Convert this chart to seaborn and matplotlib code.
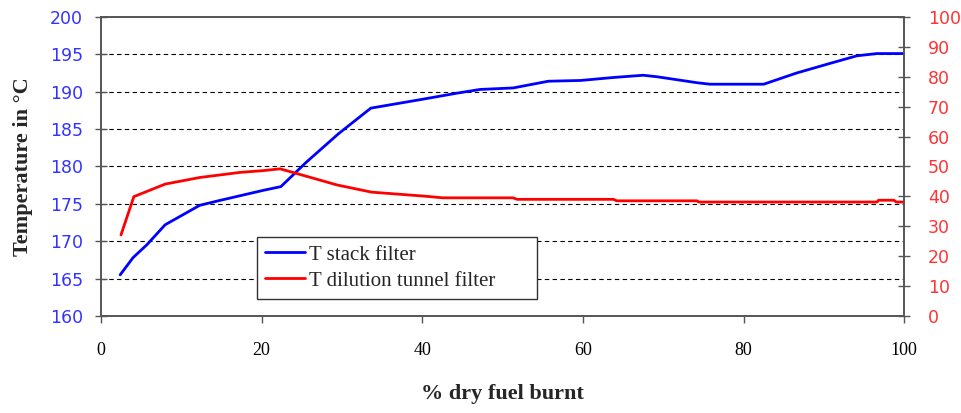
import matplotlib
matplotlib.use("Agg")
import matplotlib.pyplot as plt
import seaborn as sns
import pandas as pd

# T stack filter (left axis, deg C)
burnt_stack = [2.4, 4.0, 5.7, 8.0, 12.3, 14.6, 20.2, 22.4, 25.6, 29.6, 33.6, 40.1,
               44.3, 47.2, 51.3, 55.7, 59.7, 63.8, 67.5, 69.2, 74.2, 75.8, 82.5,
               86.6, 90.8, 94.1, 96.6, 100.0]
t_stack = [165.5, 167.8, 169.5, 172.2, 174.8, 175.4, 176.8, 177.3, 180.6, 184.4,
           187.8, 189.0, 189.8, 190.3, 190.5, 191.4, 191.5, 191.9, 192.2, 192.0,
           191.2, 191.0, 191.0, 192.5, 193.8, 194.8, 195.1, 195.1]

# T dilution tunnel filter (right axis)
burnt_tunnel = [2.5, 4.1, 8.0, 12.3, 17.3, 20.2, 22.3, 23.5, 29.4, 33.7, 40.1, 42.6,
                51.3, 51.8, 63.8, 64.2, 74.2, 74.4, 96.6, 96.8, 98.7, 99.0, 100.0]
t_tunnel = [27.1, 39.9, 44.1, 46.3, 48.0, 48.6, 49.2, 48.3, 43.8, 41.4, 40.1, 39.5,
            39.5, 39.0, 39.0, 38.5, 38.5, 38.1, 38.1, 38.7, 38.7, 38.1, 38.1]

left_ticks = [160, 165, 170, 175, 180, 185, 190, 195, 200]
right_ticks = [0, 10, 20, 30, 40, 50, 60, 70, 80, 90, 100]
x_ticks = [0, 20, 40, 60, 80, 100]

sns.set_style("ticks")
plt.rcParams['font.family'] = ['DejaVu Sans']

stack_df = pd.DataFrame({"burnt": burnt_stack, "temp": t_stack})
tunnel_df = pd.DataFrame({"burnt": burnt_tunnel, "temp": t_tunnel})

fig, ax = plt.subplots(figsize=(9.61, 4.13), dpi=100)
fig.subplots_adjust(left=0.105, right=0.941, top=0.959, bottom=0.235)
ax2 = ax.twinx()

sns.lineplot(data=stack_df, x="burnt", y="temp", ax=ax, color="#0000ff",
             linewidth=2.0, estimator=None, label="T stack filter", legend=False)
sns.lineplot(data=tunnel_df, x="burnt", y="temp", ax=ax2, color="#ff0000",
             linewidth=2.0, estimator=None, label="T dilution tunnel filter", legend=False)

ax.set_xlim(0, 100)
ax.set_ylim(160, 200)
ax2.set_ylim(0, 100)
ax.set_xticks(x_ticks)
ax.set_yticks(left_ticks)
ax2.set_yticks(right_ticks)

# dashed grid at the inner left-axis ticks only
for v in left_ticks[1:-1]:
    ax.axhline(v, color="black", linewidth=0.8, linestyle=(0, (4, 3)), zorder=0.5)

ax.tick_params(axis="y", colors="#555555", labelcolor="#3333ff", labelsize=12.5,
               direction="inout", length=8, width=1, pad=9)
ax2.tick_params(axis="y", colors="#555555", labelcolor="#ff3333", labelsize=12.5,
                direction="inout", length=8, width=1, pad=13)
ax.tick_params(axis="x", colors="#555555", labelcolor="black", direction="out",
               length=5, width=1, pad=14)
for lab in ax.get_xticklabels():
    lab.set_fontfamily("Liberation Serif")
    lab.set_fontsize(13)

for a in (ax, ax2):
    for s in a.spines.values():
        s.set_visible(True)
        s.set_color("#555555")
        s.set_linewidth(1.2)

ax.set_xlabel("% dry fuel burnt", fontfamily="Liberation Serif", fontweight="bold",
              fontsize=16, labelpad=18)
ax.set_ylabel("Temperature in °C", fontfamily="Liberation Serif", fontweight="bold",
              fontsize=16, labelpad=12)
ax2.set_ylabel("")

h1, l1 = ax.get_legend_handles_labels()
h2, l2 = ax2.get_legend_handles_labels()
leg = ax2.legend(h1 + h2, l1 + l2, loc="lower left", bbox_to_anchor=(0.194, 0.057, 0.349, 0.208),
                 mode="expand", fancybox=False, framealpha=1, edgecolor="#333333",
                 prop={"family": "Liberation Serif", "size": 15}, handlelength=1.9,
                 handletextpad=0.2, borderpad=0.4, labelspacing=0.3, borderaxespad=0)
leg.get_frame().set_linewidth(1.0)

fig.savefig("out.png", dpi=100)
